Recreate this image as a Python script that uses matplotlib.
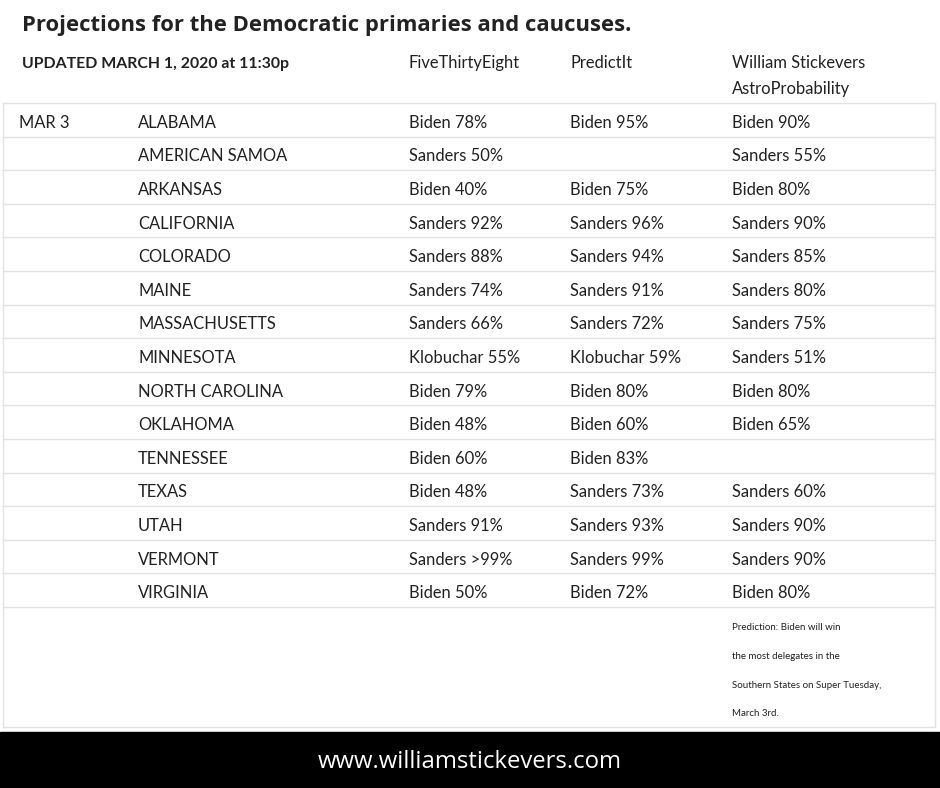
import matplotlib
matplotlib.use('Agg')
import matplotlib.pyplot as plt

# Table data
states = ['ALABAMA', 'AMERICAN SAMOA', 'ARKANSAS', 'CALIFORNIA', 'COLORADO', 'MAINE',
          'MASSACHUSETTS', 'MINNESOTA', 'NORTH CAROLINA', 'OKLAHOMA', 'TENNESSEE',
          'TEXAS', 'UTAH', 'VERMONT', 'VIRGINIA']
fivethirtyeight = ['Biden 78%', 'Sanders 50%', 'Biden 40%', 'Sanders 92%', 'Sanders 88%',
                   'Sanders 74%', 'Sanders 66%', 'Klobuchar 55%', 'Biden 79%', 'Biden 48%',
                   'Biden 60%', 'Biden 48%', 'Sanders 91%', 'Sanders >99%', 'Biden 50%']
predictit = ['Biden 95%', '', 'Biden 75%', 'Sanders 96%', 'Sanders 94%', 'Sanders 91%',
             'Sanders 72%', 'Klobuchar 59%', 'Biden 80%', 'Biden 60%', 'Biden 83%',
             'Sanders 73%', 'Sanders 93%', 'Sanders 99%', 'Biden 72%']
astro = ['Biden 90%', 'Sanders 55%', 'Biden 80%', 'Sanders 90%', 'Sanders 85%', 'Sanders 80%',
         'Sanders 75%', 'Sanders 51%', 'Biden 80%', 'Biden 65%', '', 'Sanders 60%',
         'Sanders 90%', 'Sanders 90%', 'Biden 80%']
headers = ['FiveThirtyEight', 'PredictIt', 'William Stickevers\nAstroProbability']
note = ['Prediction: Biden will win', 'the most delegates in the',
        'Southern States on Super Tuesday,', 'March 3rd.']

W, H = 940, 788
fig = plt.figure(figsize=(W / 100, H / 100), dpi=100)
ax = fig.add_axes([0, 0, 1, 1])
ax.set_xlim(0, W)
ax.set_ylim(H, 0)
ax.axis('off')

txt = '#222222'
body = dict(family='Lato', fontsize=11.9, color=txt, va='center')

ax.text(22, 25, 'Projections for the Democratic primaries and caucuses.',
        family='Open Sans', fontweight='bold', fontsize=15.8, color=txt, va='center')
ax.text(22, 64, 'UPDATED MARCH 1, 2020 at 11:30p', family='Lato', fontweight='bold',
        fontsize=11.4, color=txt, va='center')
col_x = [409, 570, 732]
for x, h in zip(col_x, headers):
    ax.text(x, 55, h, family='Lato', fontsize=11.9, color=txt, va='top', linespacing=1.75)

top, step = 103, 33.6
line_c = '#e2e2e2'
ax.plot([3, 3], [top, 727], color=line_c, lw=1)
ax.plot([935, 935], [top, 727], color=line_c, lw=1)
for i in range(len(states) + 1):
    y = top + i * step
    ax.plot([3, 935], [y, y], color=line_c, lw=1)
ax.plot([3, 935], [727, 727], color=line_c, lw=1)

ax.text(19, top + step / 2 + 3, 'MAR 3', **body)
for i, s in enumerate(states):
    y = top + step * (i + 0.5) + 3
    ax.text(138, y, s, **body)
    for x, v in zip(col_x, (fivethirtyeight[i], predictit[i], astro[i])):
        ax.text(x, y, v, **body)

for j, n in enumerate(note):
    ax.text(732, 628 + j * 28.5, n, family='Lato', fontsize=7, color=txt, va='center')

ax.add_patch(plt.Rectangle((0, 732), W, H - 732, color='black'))
ax.text(W / 2, 762, 'www.williamstickevers.com', family='Open Sans', fontsize=17.2,
        color='white', ha='center', va='center')

fig.savefig('out.png', dpi=100)
